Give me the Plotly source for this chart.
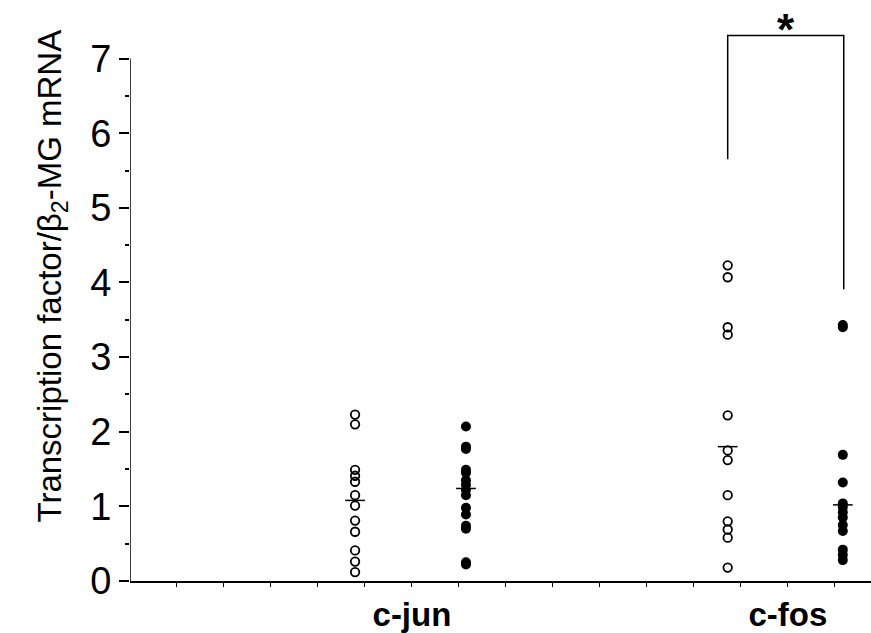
import plotly.graph_objects as go

# ---- data ----
categories = ["c-jun", "c-fos"]
cjun_open = [2.23, 2.10, 1.49, 1.41, 1.33, 1.15, 1.01, 0.81, 0.66, 0.41, 0.26, 0.12]
cjun_filled = [2.07, 1.80, 1.77, 1.49, 1.45, 1.35, 1.29, 1.22, 1.15, 0.98, 0.89, 0.74, 0.70, 0.25, 0.22]
cfos_open = [4.23, 4.07, 3.40, 3.30, 2.22, 1.75, 1.62, 1.15, 0.80, 0.69, 0.58, 0.18]
cfos_filled = [3.43, 3.40, 1.69, 1.32, 1.04, 0.99, 0.92, 0.85, 0.75, 0.67, 0.42, 0.35, 0.28]
group_means = [1.08, 1.24, 1.80, 1.02]
y_ticks = [0, 1, 2, 3, 4, 5, 6, 7]

# ---- layout positions ----
group_x = [4.79, 7.15, 12.72, 15.17]
cat_x = [6, 14]
bracket = dict(x0=12.72, x1=15.19, yl=5.65, yr=3.91, ytop=7.31)
FONT = "Liberation Sans, Arial, sans-serif"

fig = go.Figure()
series = [cjun_open, cjun_filled, cfos_open, cfos_filled]
filled = [False, True, False, True]
for xs, vals, f in zip(group_x, series, filled):
    fig.add_trace(go.Scatter(
        x=[xs] * len(vals), y=vals, mode="markers",
        marker=dict(symbol="circle" if f else "circle-open",
                    size=10 if f else 8.5,
                    color="black",
                    line=dict(color="black", width=1.8 if not f else 0)),
        showlegend=False, cliponaxis=False))

for xs, m in zip(group_x, group_means):
    fig.add_trace(go.Scatter(x=[xs - 0.21, xs + 0.21], y=[m, m], mode="lines",
                             line=dict(color="black", width=1.5), showlegend=False))

# significance bracket
fig.add_trace(go.Scatter(
    x=[bracket["x0"], bracket["x0"], bracket["x1"], bracket["x1"]],
    y=[bracket["yl"], bracket["ytop"], bracket["ytop"], bracket["yr"]],
    mode="lines", line=dict(color="black", width=1.5), showlegend=False))
fig.add_annotation(x=(bracket["x0"] + bracket["x1"]) / 2, y=bracket["ytop"],
                   text="<b>*</b>", showarrow=False, yanchor="middle", yshift=6,
                   font=dict(size=44, color="black", family=FONT))

# y axis line (only up to 7)
fig.add_shape(type="line", x0=0, x1=0, y0=0, y1=7, xref="x", yref="y",
              line=dict(color="black", width=1.5))

fig.add_annotation(xref="paper", yref="paper", x=-0.105, y=0.548,
                   xanchor="center", yanchor="middle",
                   text="Transcription factor/β<sub>2</sub>-MG mRNA",
                   textangle=-90, showarrow=False,
                   font=dict(size=33, color="black", family=FONT))

ticktext = [""] * 15
tickvals = list(range(1, 16))
for cx, c in zip(cat_x, categories):
    ticktext[cx - 1] = "<b>" + c + "</b>"

fig.update_layout(
    width=871, height=633,
    margin=dict(l=130, r=0, t=25, b=50),
    paper_bgcolor="white", plot_bgcolor="white",
    font=dict(family=FONT, color="black"),
    xaxis=dict(range=[0, 15.77], showline=True, linecolor="black", linewidth=1.5,
               ticks="outside", ticklen=4, tickcolor="black", tickwidth=1,
               tickvals=tickvals, ticktext=ticktext, tickfont=dict(size=33),
               showgrid=False, zeroline=False),
    yaxis=dict(range=[0, 7.45], showline=False, ticks="outside", ticklen=10,
               tickcolor="black", tickwidth=1.5, tickvals=y_ticks,
               tickfont=dict(size=38), showgrid=False, zeroline=False,
               minor=dict(tickvals=[0.5, 1.5, 2.5, 3.5, 4.5, 5.5, 6.5],
                          ticks="outside", ticklen=4, tickcolor="black", showgrid=False)),
)

fig.write_html("out.html")
